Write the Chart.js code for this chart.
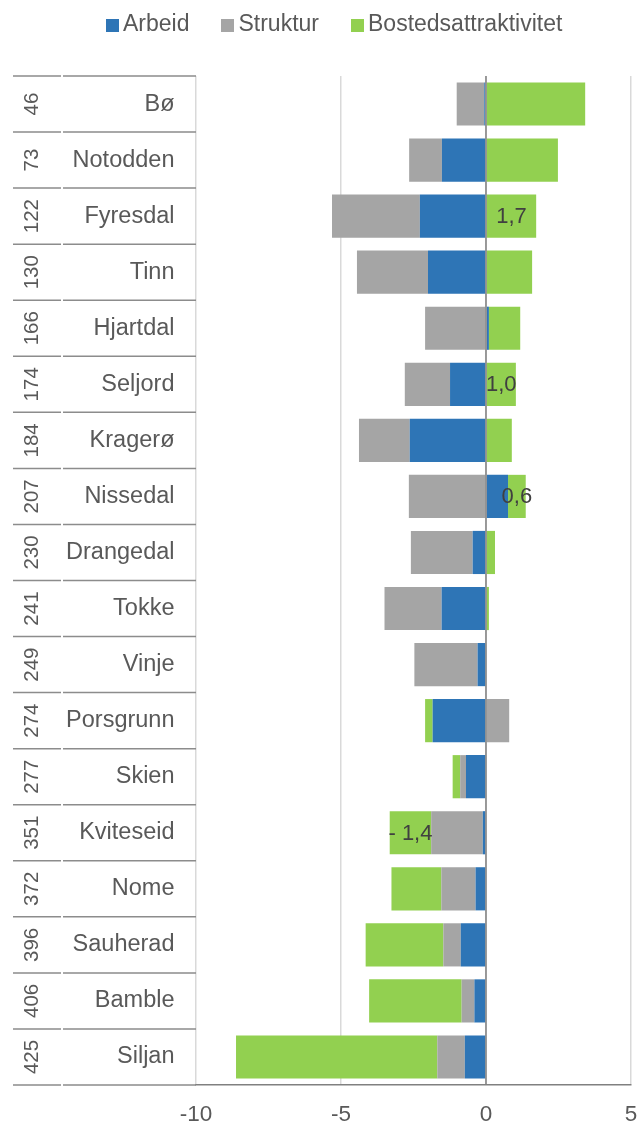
<!DOCTYPE html>
<html lang="no">
<head>
<meta charset="utf-8">
<title>Attraktivitet Telemark</title>
<script src="https://cdn.jsdelivr.net/npm/chart.js@4.4.1/dist/chart.umd.min.js"></script>
<style>
  body { margin: 0; background: #fff; }
  #wrap { position: relative; width: 640px; height: 1122px; }
  #legend {
    position: absolute; top: 12px; left: 106px;
    display: flex; align-items: center;
    font-family: "Liberation Sans", Arial, sans-serif; font-size: 23px;
    line-height: 23px; color: #595959;
  }
  #legend span.item { display: flex; align-items: center; margin-right: 32px; }
  #legend span.box { width: 13px; height: 13px; margin-right: 4px; margin-top: 3px; }
</style>
</head>
<body>
<div id="wrap">
  <div id="legend"></div>
  <canvas id="chart" width="640" height="1122"></canvas>
</div>
<script>
const ranks = [46, 73, 122, 130, 166, 174, 184, 207, 230, 241, 249, 274, 277, 351, 372, 396, 406, 425];
const kommuner = ['Bø', 'Notodden', 'Fyresdal', 'Tinn', 'Hjartdal', 'Seljord', 'Kragerø', 'Nissedal',
  'Drangedal', 'Tokke', 'Vinje', 'Porsgrunn', 'Skien', 'Kviteseid', 'Nome', 'Sauherad', 'Bamble', 'Siljan'];

const arbeid   = [-0.06, -1.52, -2.28, -2.00, 0.10, -1.24, -2.63, 0.76, -0.46, -1.53, -0.29, -1.84, -0.69, -0.11, -0.36, -0.87, -0.40, -0.73];
const struktur = [-0.95, -1.13, -3.03, -2.45, -2.10, -1.56, -1.75, -2.66, -2.13, -1.97, -2.18, 0.80, -0.20, -1.78, -1.18, -0.60, -0.44, -0.95];
const bosted   = [3.42, 2.48, 1.73, 1.59, 1.08, 1.03, 0.89, 0.61, 0.31, 0.10, 0.00, -0.26, -0.26, -1.43, -1.72, -2.68, -3.19, -6.94];

// kommuner som har verdietikett på Bostedsattraktivitet
const merket = ['Fyresdal', 'Seljord', 'Nissedal', 'Kviteseid'];

const xTicks = [-10, -5, 0, 5];

const seriesNames = ['Arbeid', 'Struktur', 'Bostedsattraktivitet'];
const seriesColors = ['#2E75B6', '#A5A5A5', '#92D050'];

const FONT = '"Liberation Sans", Arial, sans-serif';
const TEXT = '#595959';

// legende (HTML)
const legendEl = document.getElementById('legend');
seriesNames.forEach((name, i) => {
  const item = document.createElement('span');
  item.className = 'item';
  const box = document.createElement('span');
  box.className = 'box';
  box.style.background = seriesColors[i];
  item.appendChild(box);
  item.appendChild(document.createTextNode(name));
  legendEl.appendChild(item);
});

const fmt = v => {
  const s = Math.abs(v).toFixed(1).replace('.', ',');
  return v < 0 ? '- ' + s : s;
};

// linjer og rangering i kategoriområdet til venstre
const kategoriPlugin = {
  id: 'kategori',
  afterDraw(chart) {
    const { ctx, chartArea, scales } = chart;
    const y = scales.y;
    const left = 13, split = 62, right = chartArea.left;
    const bounds = [chartArea.top];
    for (let i = 1; i < kommuner.length; i++) {
      bounds.push((y.getPixelForTick(i - 1) + y.getPixelForTick(i)) / 2);
    }
    bounds.push(chartArea.bottom);

    ctx.save();
    ctx.strokeStyle = '#8c8c8c';
    ctx.lineWidth = 1.5;
    bounds.forEach(b => {
      ctx.beginPath();
      ctx.moveTo(left, b);
      ctx.lineTo(split - 1, b);
      ctx.moveTo(split + 1, b);
      ctx.lineTo(right, b);
      ctx.stroke();
    });

    ctx.fillStyle = TEXT;
    ctx.font = '20.5px ' + FONT;
    ctx.textAlign = 'center';
    ctx.textBaseline = 'alphabetic';
    ranks.forEach((r, i) => {
      ctx.save();
      ctx.translate(38, y.getPixelForTick(i));
      ctx.rotate(-Math.PI / 2);
      ctx.fillText(String(r), 0, 0);
      ctx.restore();
    });
    ctx.restore();
  },
  afterDatasetsDraw(chart) {
    const { ctx, chartArea, scales } = chart;
    const x0 = scales.x.getPixelForValue(0);
    ctx.save();
    ctx.strokeStyle = '#808080';
    ctx.lineWidth = 1.5;
    ctx.beginPath();
    ctx.moveTo(x0, chartArea.top);
    ctx.lineTo(x0, chartArea.bottom);
    ctx.stroke();

    // verdietiketter
    const meta = chart.getDatasetMeta(2);
    ctx.fillStyle = '#404040';
    ctx.font = '22px ' + FONT;
    ctx.textAlign = 'center';
    ctx.textBaseline = 'middle';
    meta.data.forEach((bar, i) => {
      if (!merket.includes(kommuner[i])) return;
      const cx = (bar.x + bar.base) / 2;
      ctx.fillText(fmt(bosted[i]), cx, bar.y + 1);
    });
    ctx.restore();
  }
};

new Chart(document.getElementById('chart'), {
  type: 'bar',
  data: {
    labels: kommuner,
    datasets: [
      { label: seriesNames[0], data: arbeid, backgroundColor: seriesColors[0] },
      { label: seriesNames[1], data: struktur, backgroundColor: seriesColors[1] },
      { label: seriesNames[2], data: bosted, backgroundColor: seriesColors[2] }
    ]
  },
  options: {
    indexAxis: 'y',
    responsive: false,
    animation: false,
    layout: { padding: { top: 76, left: 13, right: 9, bottom: 0 } },
    datasets: {
      bar: { barPercentage: 1, categoryPercentage: 0.77, borderWidth: 0 }
    },
    scales: {
      x: {
        stacked: true,
        min: -10,
        max: 5,
        afterBuildTicks: scale => { scale.ticks = xTicks.map(v => ({ value: v })); },
        afterFit: scale => {
          scale.height = 37;
          scale.paddingLeft = 0;
          scale.paddingRight = 0;
        },
        grid: { color: '#d9d9d9', lineWidth: 1.5, drawTicks: false },
        border: { display: true, color: '#808080', width: 1.5 },
        ticks: {
          padding: 16,
          color: TEXT,
          font: { family: FONT, size: 22.5 },
          callback: v => String(v)
        }
      },
      y: {
        stacked: true,
        afterFit: scale => { scale.width = 183; },
        grid: { display: false, drawTicks: false },
        border: { display: false },
        ticks: {
          padding: 21.5,
          color: TEXT,
          font: { family: FONT, size: 23.5 }
        }
      }
    },
    plugins: {
      legend: { display: false },
      tooltip: { enabled: false }
    }
  },
  plugins: [kategoriPlugin]
});
</script>
</body>
</html>
